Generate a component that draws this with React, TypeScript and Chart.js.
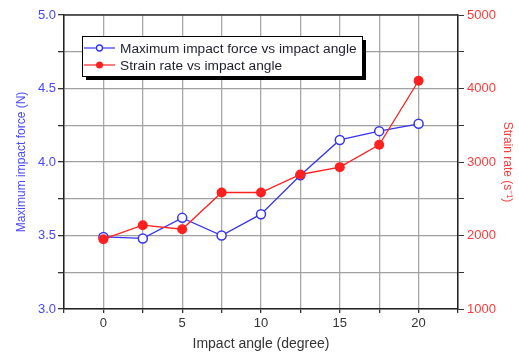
import React, { useEffect, useRef } from "react";
import { Chart, registerables } from "chart.js";

Chart.register(...registerables);

const angles = [0, 2.5, 5, 7.5, 10, 12.5, 15, 17.5, 20];
const forceValues = [3.49, 3.48, 3.62, 3.5, 3.645, 3.91, 4.15, 4.21, 4.26];
const strainValues = [1950, 2140, 2085, 2585, 2585, 2830, 2930, 3235, 4105];
const leftTickLabels = [3.0, 3.5, 4.0, 4.5, 5.0];
const rightTickLabels = [1000, 2000, 3000, 4000, 5000];
const bottomTickLabels = [0, 5, 10, 15, 20];

const legendLabels = ["Maximum impact force vs impact angle", "Strain rate vs impact angle"];

const BLUE = "#3535f0";
const RED = "#ff2020";
const BLUE_TXT = "#4848ff";
const RED_TXT = "#ff3a3a";
const FONT = "'Liberation Sans', Arial, sans-serif";

const frameAndLegend = {
  id: "frameAndLegend",
  afterDraw(chart: any) {
    const ctx = chart.ctx;
    const a = chart.chartArea;
    ctx.save();
    ctx.strokeStyle = "#333";
    ctx.lineWidth = 1.5;
    ctx.beginPath();
    ctx.moveTo(a.left, a.top);
    ctx.lineTo(a.right, a.top);
    ctx.stroke();
    const lx = 82, ly = 36, lw = 280, lh = 40;
    ctx.fillStyle = "#000";
    ctx.fillRect(lx + 4, ly + 4, lw, lh);
    ctx.fillStyle = "#fff";
    ctx.fillRect(lx, ly, lw, lh);
    ctx.strokeStyle = "#000";
    ctx.lineWidth = 1;
    ctx.strokeRect(lx + 0.5, ly + 0.5, lw, lh);
    const rows = [
      { y: 48, color: BLUE, open: true },
      { y: 65, color: RED, open: false },
    ];
    ctx.font = "13.7px " + FONT;
    ctx.textBaseline = "middle";
    rows.forEach((r, i) => {
      ctx.strokeStyle = r.color;
      ctx.lineWidth = 1.2;
      ctx.beginPath();
      ctx.moveTo(84, r.y);
      ctx.lineTo(115, r.y);
      ctx.stroke();
      ctx.beginPath();
      ctx.arc(99.5, r.y, r.open ? 3 : 3.5, 0, Math.PI * 2);
      if (r.open) {
        ctx.fillStyle = "#fff";
        ctx.fill();
        ctx.lineWidth = 1.3;
        ctx.stroke();
      } else {
        ctx.fillStyle = r.color;
        ctx.fill();
      }
      ctx.fillStyle = "#1e1e30";
      ctx.fillText(legendLabels[i], 120, r.y + 1);
    });
    ctx.restore();
  },
};

export default function App() {
  const ref = useRef<HTMLCanvasElement>(null);
  useEffect(() => {
    if (!ref.current) return;
    const chart = new Chart(ref.current, {
      type: "line",
      data: {
        datasets: [
          {
            label: legendLabels[0],
            data: angles.map((x, i) => ({ x, y: forceValues[i] })),
            yAxisID: "y",
            borderColor: BLUE,
            borderWidth: 1.3,
            pointRadius: 4.5,
            pointBorderWidth: 1.5,
            pointBackgroundColor: "#fff",
            pointBorderColor: BLUE,
            order: 2,
          },
          {
            label: legendLabels[1],
            data: angles.map((x, i) => ({ x, y: strainValues[i] })),
            yAxisID: "y1",
            borderColor: RED,
            borderWidth: 1.3,
            pointRadius: 5,
            pointBorderWidth: 0,
            pointBackgroundColor: RED,
            pointBorderColor: RED,
            order: 1,
          },
        ],
      },
      options: {
        animation: false,
        responsive: false,
        devicePixelRatio: 1,
        layout: { padding: { top: 15, left: 0, right: 0, bottom: 0 } },
        plugins: { legend: { display: false }, tooltip: { enabled: false } },
        scales: {
          x: {
            type: "linear",
            min: -2.5,
            max: 22.5,
            afterFit: (s: any) => { s.height = 49; },
            afterBuildTicks: (s: any) => {
              const t = [];
              for (let v = -2.5; v <= 22.5 + 1e-9; v += 2.5) t.push({ value: v });
              s.ticks = t;
            },
            ticks: {
              autoSkip: false,
              maxRotation: 0,
              padding: 3,
              color: "#333",
              font: { size: 13, family: FONT },
              callback: (v: any) => (bottomTickLabels.includes(Number(v)) ? String(v) : ""),
            },
            grid: { color: "#a8a8a8", lineWidth: 1.3, tickLength: 4, tickColor: "#333" },
            border: { color: "#222", width: 1.5 },
            title: {
              display: true,
              text: "Impact angle (degree)",
              color: "#333",
              font: { size: 14, family: FONT },
              padding: { top: 0, bottom: 5 },
            },
          },
          y: {
            type: "linear",
            position: "left",
            min: 3,
            max: 5,
            afterFit: (s: any) => { s.width = 64; },
            afterBuildTicks: (s: any) => {
              const t = [];
              for (let v = 3; v <= 5 + 1e-9; v += 0.25) t.push({ value: v });
              s.ticks = t;
            },
            ticks: {
              autoSkip: false,
              padding: 2,
              color: BLUE_TXT,
              font: { size: 13, family: FONT },
              callback: (v: any) => {
                const n = Number(v);
                return leftTickLabels.some((l) => Math.abs(l - n) < 1e-6) ? n.toFixed(1) : "";
              },
            },
            grid: { color: "#a0a0a0", lineWidth: 1.3, tickLength: 6, tickColor: "#333" },
            border: { color: "#222", width: 1.5 },
            title: {
              display: true,
              text: "Maximum impact force (N)",
              color: BLUE_TXT,
              font: { size: 12, family: FONT },
              padding: { top: 14, bottom: 0 },
            },
          },
          y1: {
            type: "linear",
            position: "right",
            min: 1000,
            max: 5000,
            afterFit: (s: any) => { s.width = 61; },
            afterBuildTicks: (s: any) => {
              const t = [];
              for (let v = 1000; v <= 5000; v += 500) t.push({ value: v });
              s.ticks = t;
            },
            ticks: {
              autoSkip: false,
              padding: 3,
              color: RED_TXT,
              font: { size: 13, family: FONT },
              callback: (v: any) => (rightTickLabels.includes(Number(v)) ? String(v) : ""),
            },
            grid: { drawOnChartArea: false, tickLength: 6, tickColor: "#333" },
            border: { color: "#222", width: 1.5 },
            title: {
              display: true,
              text: "Strain rate (s\u207B\u00B9)",
              color: RED_TXT,
              font: { size: 12, family: FONT },
              padding: { top: 4, bottom: 0 },
            },
          },
        },
      },
      plugins: [frameAndLegend],
    });
    return () => chart.destroy();
  }, []);
  return (
    <div style={{ position: "fixed", left: 0, top: 0, width: 519, height: 358, background: "#fff" }}>
      <canvas ref={ref} width={519} height={358} />
    </div>
  );
}
